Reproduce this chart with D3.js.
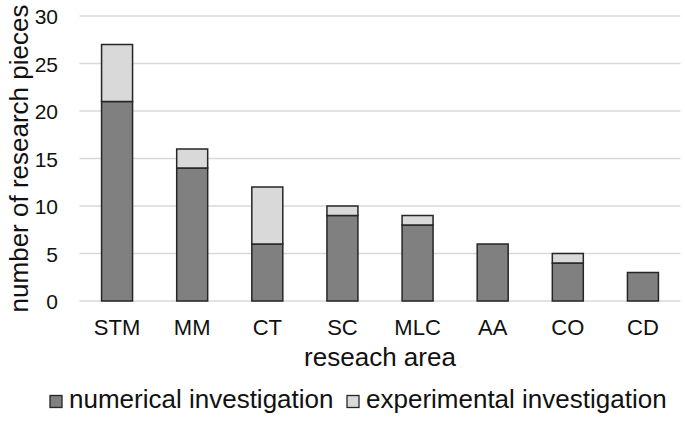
<!DOCTYPE html>
<html>
<head>
<meta charset="utf-8">
<script src="https://cdn.jsdelivr.net/npm/d3@7"></script>
<style>
  body { margin: 0; background: #fff; }
  text { font-family: "Liberation Sans", Arial, sans-serif; fill: #111; }
</style>
</head>
<body>
<script>
const categories = ['STM', 'MM', 'CT', 'SC', 'MLC', 'AA', 'CO', 'CD'];
const numerical = [21, 14, 6, 9, 8, 6, 4, 3];
const experimental = [6, 2, 6, 1, 1, 0, 1, 0];
const yTicks = [0, 5, 10, 15, 20, 25, 30];
const seriesNames = ['numerical investigation', 'experimental investigation'];
const colors = ['#808080', '#d9d9d9'];

const width = 685, height = 421;
const margin = { left: 79.5, right: 4.5, top: 16, bottom: 120 };

const svg = d3.select('body').append('svg')
    .attr('width', width)
    .attr('height', height);

const x = d3.scaleBand()
    .domain(categories)
    .range([margin.left, width - margin.right])
    .paddingInner(0.5875)
    .paddingOuter(0.29375);

const y = d3.scaleLinear()
    .domain([0, 30])
    .range([height - margin.bottom, margin.top]);

// gridlines
svg.append('g')
    .selectAll('line')
    .data(yTicks)
    .enter()
    .append('line')
    .attr('x1', margin.left)
    .attr('x2', width - margin.right)
    .attr('y1', d => y(d))
    .attr('y2', d => y(d))
    .style('stroke', '#d9d9d9')
    .style('stroke-width', 1.3);

const yAxis = svg.append('g')
    .attr('transform', 'translate(58,0)')
    .call(d3.axisLeft(y).tickValues(yTicks).tickSize(0).tickPadding(0));
yAxis.select('.domain').remove();
yAxis.selectAll('text').style('font-size', '21px').attr('dy', '0.37em');

const data = categories.map((c, i) => ({ cat: c, values: [numerical[i], experimental[i]] }));
const stack = d3.stack().keys([0, 1]).value((d, k) => d.values[k]);
const stacked = stack(data);

stacked.forEach((layer, k) => {
    svg.append('g')
        .selectAll('rect')
        .data(layer.filter(d => d[1] - d[0] > 0))
        .enter()
        .append('rect')
        .attr('x', d => x(d.data.cat))
        .attr('width', x.bandwidth())
        .attr('y', d => y(d[1]))
        .attr('height', d => y(d[0]) - y(d[1]))
        .style('fill', colors[k])
        .style('stroke', '#262626')
        .style('stroke-width', 1.5);
});

const xAxis = svg.append('g')
    .attr('transform', `translate(0,${y(0)})`)
    .call(d3.axisBottom(x).tickSize(0).tickPadding(0));
xAxis.select('.domain').remove();
xAxis.selectAll('text')
    .style('font-size', '22px')
    .attr('dy', null)
    .attr('y', 34);

svg.append('text')
    .attr('x', (margin.left + width - margin.right) / 2)
    .attr('y', 366)
    .attr('text-anchor', 'middle')
    .style('font-size', '26px')
    .text('reseach area');

svg.append('text')
    .attr('transform', `translate(28,${(y(0) + y(30)) / 2}) rotate(-90)`)
    .attr('text-anchor', 'middle')
    .style('font-size', '26px')
    .text('number of research pieces');

// legend
const legend = svg.append('g').attr('transform', 'translate(0,408)');
const legendX = [50, 347];
seriesNames.forEach((name, k) => {
    const g = legend.append('g').attr('transform', `translate(${legendX[k]},0)`);
    g.append('rect')
        .attr('x', 0).attr('y', -12.5)
        .attr('width', 12).attr('height', 12)
        .style('fill', colors[k])
        .style('stroke', '#262626')
        .style('stroke-width', 1.3);
    g.append('text')
        .attr('x', 19).attr('y', 0)
        .style('font-size', '26px')
        .text(name);
});
</script>
</body>
</html>
